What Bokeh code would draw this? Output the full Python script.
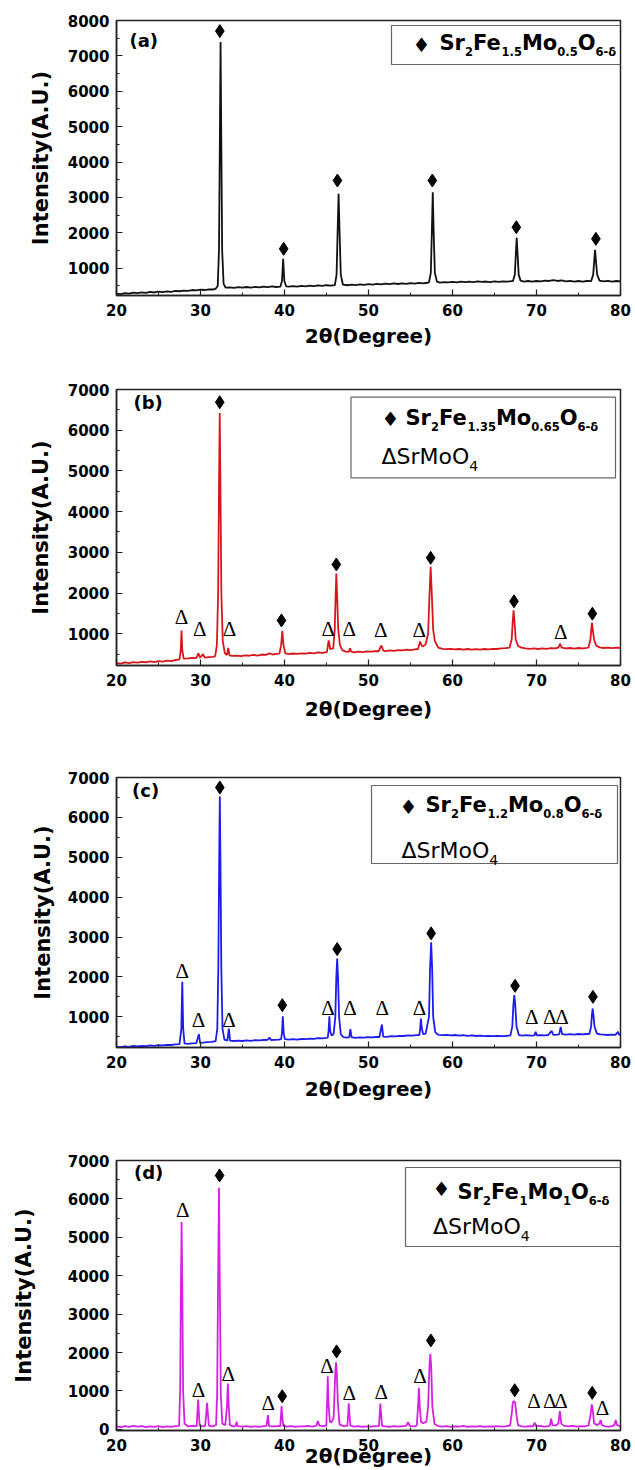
from bokeh.plotting import figure
from bokeh.layouts import column
from bokeh.models import Label, BoxAnnotation, SingleIntervalTicker
from bokeh.core.properties import value
from bokeh.embed import file_html
from bokeh.resources import INLINE

# ---------------- data ----------------
two_theta_a = [20.0, 20.5, 21.0, 21.5, 22.0, 22.5, 23.0, 23.5, 24.0, 24.5, 25.0, 25.5, 26.0, 26.5, 27.0, 27.5, 28.0, 28.5, 29.0, 29.5, 30.0, 30.5, 31.0, 31.5,
               31.8, 32.05, 32.2, 32.3, 32.39, 32.48, 32.58, 32.75, 33.0,
               33.5, 34.0, 34.5, 35.0, 35.5, 36.0, 36.5, 37.0, 37.5, 38.0, 38.5, 39.0, 39.5,
               39.7, 39.84, 39.98, 40.2,
               40.5, 41.0, 41.5, 42.0, 42.5, 43.0, 43.5, 44.0, 44.5, 45.0, 45.5, 46.0,
               46.2, 46.32, 46.44, 46.56, 46.7, 46.95,
               47.5, 48.0, 48.5, 49.0, 49.5, 50.0, 50.5, 51.0, 51.5, 52.0, 52.5, 53.0, 53.5, 54.0, 54.5, 55.0, 55.5, 56.0, 56.5, 57.0, 57.2,
               57.42, 57.54, 57.65, 57.76, 57.9, 58.15,
               58.5, 59.0, 59.5, 60.0, 60.5, 61.0, 61.5, 62.0, 62.5, 63.0, 63.5, 64.0, 64.5, 65.0, 65.5, 66.0, 66.5, 67.0, 67.2,
               67.42, 67.54, 67.64, 67.75, 67.88, 68.1,
               68.5, 69.0, 69.5, 70.0, 70.5, 71.0, 71.5, 72.0, 72.5, 73.0, 73.5, 74.0, 74.5, 75.0, 75.5, 76.0, 76.5,
               76.75, 76.87, 76.97, 77.08, 77.22, 77.5,
               78.0, 78.5, 79.0, 79.5, 80.0]
intensity_a = [285, 270, 300, 285, 310, 295, 320, 305, 330, 315, 340, 325, 345, 335, 360, 350, 370, 360, 385, 375, 395, 385, 405, 400,
               420, 500, 1500, 4500, 7390, 4500, 1500, 560, 450,
               460, 445, 465, 450, 470, 455, 475, 460, 480, 465, 485, 470, 480,
               640, 1266, 640, 490,
               480, 495, 480, 500, 490, 510, 495, 515, 500, 520, 510, 525,
               820, 2000, 3103, 2000, 820, 540,
               520, 535, 525, 545, 530, 550, 540, 560, 545, 565, 550, 570, 555, 575, 560, 580, 565, 585, 575, 590, 600,
               870, 2000, 3148, 2000, 870, 620,
               595, 610, 600, 615, 600, 620, 605, 625, 610, 630, 615, 625, 610, 630, 615, 630, 620, 635, 640,
               820, 1400, 1860, 1400, 820, 650,
               625, 640, 620, 640, 630, 650, 640, 665, 640, 655, 630, 645, 625, 640, 620, 640, 635,
               820, 1200, 1520, 1200, 820, 650,
               630, 645, 625, 640, 630]

two_theta_b = [20.0, 20.5, 21.0, 21.5, 22.0, 22.5, 23.0, 23.5, 24.0, 24.5, 25.0, 25.5, 26.0, 26.5, 27.0, 27.5,
               27.65, 27.74, 27.83, 28.0,
               28.5, 29.0, 29.5, 29.75, 29.95, 30.3, 30.5, 31.0, 31.5, 31.75,
               31.95, 32.1, 32.2, 32.29, 32.38, 32.48, 32.65, 32.9,
               33.15, 33.3, 33.45, 33.8, 34.3, 34.8, 35.3, 35.8, 36.3, 36.8, 37.3, 37.8, 38.2, 38.6, 39.0, 39.4,
               39.6, 39.74, 39.88, 40.1,
               40.5, 41.0, 41.5, 42.0, 42.5, 43.0, 43.5, 44.0, 44.5, 45.05,
               45.26, 45.45, 45.8,
               45.98, 46.08, 46.17, 46.27, 46.4, 46.6, 46.9,
               47.3, 47.65, 47.8, 47.95, 48.3, 48.8, 49.3, 49.8, 50.3, 50.8, 51.2,
               51.54, 51.75, 52.0, 52.5, 53.0, 53.5, 54.0, 54.5, 55.0, 55.5, 55.9,
               56.14, 56.35, 56.5, 56.8,
               57.1, 57.25, 57.4, 57.55, 57.7, 57.9, 58.3,
               58.8, 59.3, 59.8, 60.3, 60.8, 61.3, 61.8, 62.3, 62.8, 63.3, 63.8, 64.3, 64.8, 65.3, 65.8, 66.3, 66.8,
               67.05, 67.17, 67.27, 67.38, 67.52, 67.8, 68.2,
               68.7, 69.2, 69.7, 70.2, 70.7, 71.2, 71.7, 72.2, 72.6, 72.8, 73.0,
               73.5, 74.0, 74.5, 75.0, 75.5, 76.0, 76.2,
               76.42, 76.52, 76.6, 76.7, 76.85, 77.1, 77.5,
               78.0, 78.5, 79.0, 79.5, 80.0]
intensity_b = [280, 265, 295, 280, 305, 290, 310, 300, 320, 305, 325, 315, 340, 330, 355, 370,
               600, 1080, 600, 390,
               395, 405, 400, 520, 410, 500, 415, 425, 430, 450,
               720, 2000, 4500, 6425, 4500, 2000, 820, 520,
               480, 655, 470, 455, 465, 450, 470, 460, 480, 465, 490, 480, 520, 490, 505, 510,
               720, 1064, 720, 520,
               500, 515, 505, 520, 510, 530, 520, 540, 530, 550,
               835, 620, 640,
               1100, 1900, 2479, 1900, 1100, 720, 590,
               560, 555, 645, 560, 545, 560, 550, 565, 560, 575, 570,
               712, 590, 575, 590, 580, 600, 590, 610, 600, 615, 625,
               810, 700, 690, 740,
               1000, 1900, 2643, 1900, 1100, 820, 660,
               630, 620, 630, 615, 625, 610, 625, 610, 620, 610, 625, 615, 630, 625, 640, 645, 660,
               870, 1300, 1575, 1300, 870, 700, 660,
               640, 630, 640, 625, 640, 630, 645, 640, 660, 753, 660,
               640, 650, 635, 650, 640, 655, 665,
               860, 1100, 1271, 1100, 860, 710, 665,
               650, 660, 645, 660, 650]

two_theta_c = [20.0, 20.5, 21.0, 21.5, 22.0, 22.5, 23.0, 23.5, 24.0, 24.5, 25.0, 25.5, 26.0, 26.5, 27.0, 27.5,
               27.72, 27.83, 27.94, 28.1,
               28.5, 29.0, 29.5, 29.81, 29.95, 30.3, 30.8, 31.3, 31.8,
               32.0, 32.12, 32.22, 32.3, 32.38, 32.48, 32.62, 32.85,
               33.2, 33.38, 33.52, 34.0, 34.5, 35.0, 35.5, 36.0, 36.5, 37.0, 37.5, 38.0, 38.21, 38.4, 38.8, 39.3, 39.6,
               39.7, 39.8, 39.9, 40.05,
               40.5, 41.0, 41.5, 42.0, 42.5, 43.0, 43.5, 44.0, 44.5, 45.0, 45.15,
               45.25, 45.34, 45.43, 45.6, 45.85,
               46.05, 46.17, 46.27, 46.37, 46.5, 46.7, 47.0,
               47.4, 47.7, 47.84, 47.98, 48.4, 48.9, 49.4, 49.9, 50.4, 50.9, 51.3,
               51.6, 51.75, 52.2, 52.7, 53.2, 53.7, 54.2, 54.7, 55.2, 55.7, 56.05,
               56.15, 56.24, 56.35, 56.5, 56.8,
               57.2, 57.33, 57.46, 57.58, 57.7, 57.95, 58.3,
               58.8, 59.3, 59.8, 60.3, 60.8, 61.3, 61.8, 62.3, 62.8, 63.3, 63.8, 64.3, 64.8, 65.3, 65.8, 66.3, 66.9,
               67.12, 67.25, 67.36, 67.47, 67.62, 67.9,
               68.3, 68.8, 69.3, 69.75, 69.9, 70.05, 70.5, 71.0, 71.4, 71.8, 72.0, 72.4, 72.7, 72.88, 73.05,
               73.5, 74.0, 74.5, 75.0, 75.5, 76.0, 76.3,
               76.5, 76.6, 76.68, 76.78, 76.9, 77.2,
               77.6, 78.0, 78.5, 79.0, 79.4, 79.7, 79.85, 80.0]
intensity_c = [250, 240, 260, 250, 270, 258, 275, 265, 285, 275, 290, 285, 300, 295, 310, 318,
               700, 1878, 700, 335,
               325, 335, 340, 565, 350, 355, 365, 375, 390,
               700, 2200, 4800, 6523, 4800, 2200, 700, 430,
               405, 708, 405, 395, 405, 395, 410, 400, 415, 410, 420, 425, 482, 420, 425, 430, 440,
               600, 1017, 600, 440,
               430, 440, 430, 445, 440, 455, 450, 465, 460, 475, 480,
               650, 1017, 650, 530, 570,
               1000, 2000, 2465, 2000, 1000, 570, 490,
               480, 485, 691, 490, 475, 485, 478, 490, 485, 495, 495,
               808, 505, 500, 515, 510, 525, 520, 535, 530, 540, 545,
               700, 959, 700, 570, 580,
               1000, 2200, 2867, 2200, 1000, 610, 550,
               540, 550, 535, 545, 530, 540, 525, 535, 520, 530, 515, 525, 515, 520, 515, 520, 535,
               760, 1300, 1545, 1300, 760, 545,
               530, 540, 530, 535, 623, 535, 540, 535, 545, 650, 550, 555, 560, 749, 565,
               555, 565, 555, 570, 560, 570, 575,
               760, 1050, 1210, 1050, 760, 580,
               560, 555, 545, 555, 550, 625, 550, 545]

two_theta_d = [20.0, 20.5, 21.0, 21.5, 22.0, 22.5, 23.0, 23.5, 24.0, 24.5, 25.0, 25.5, 26.0, 26.5, 27.0, 27.45,
               27.58, 27.66, 27.75, 27.84, 27.93, 28.1,
               28.5, 29.0, 29.55, 29.64, 29.72, 29.8, 29.9,
               30.2, 30.55, 30.68, 30.78, 30.88, 31.0,
               31.4, 31.85, 31.98, 32.08, 32.2, 32.31, 32.42, 32.6,
               32.95, 33.15, 33.26, 33.36, 33.5,
               33.9, 34.2, 34.3, 34.4, 35.0, 35.5, 36.0, 36.5, 37.0, 37.5, 37.85, 38.03, 38.15,
               38.6, 39.1, 39.5, 39.58, 39.65, 39.73, 39.85,
               40.3, 40.8, 41.3, 41.8, 42.3, 42.8, 43.3, 43.8, 43.98, 44.15, 44.6, 44.98,
               45.07, 45.15, 45.23, 45.4, 45.6, 45.85,
               45.95, 46.05, 46.13, 46.22, 46.35, 46.55,
               47.0, 47.48, 47.58, 47.65, 47.73, 47.85,
               48.3, 48.8, 49.3, 49.8, 50.3, 50.8, 51.25, 51.33, 51.41, 51.5, 51.62,
               52.0, 52.5, 53.0, 53.5, 54.0, 54.5, 54.7, 54.9, 55.3, 55.75,
               55.9, 56.0, 56.1, 56.25, 56.5, 56.9,
               57.1, 57.25, 57.36, 57.47, 57.6, 57.85,
               58.3, 58.8, 59.3, 59.8, 60.3, 60.8, 61.3, 61.8, 62.3, 62.8, 63.3, 63.8, 64.3, 64.8, 65.3, 65.8, 66.3, 66.85,
               67.05, 67.18, 67.3, 67.45, 67.6, 67.8,
               68.2, 68.7, 69.2, 69.6, 69.79, 69.95, 70.4, 70.9, 71.4, 71.6, 71.74, 71.9, 72.3, 72.6, 72.78, 72.95, 73.3,
               73.8, 74.3, 74.8, 75.3, 75.8, 76.2, 76.45, 76.58, 76.7, 76.85, 77.2, 77.5, 77.63, 77.78,
               78.2, 78.7, 79.1, 79.3, 79.44, 79.58, 80.0]
intensity_d = [80, 60, 85, 65, 90, 70, 85, 60, 80, 65, 85, 60, 80, 65, 85, 90,
               1000, 3500, 5400, 3500, 1000, 150,
               80, 90, 85, 450, 778, 450, 100,
               80, 90, 400, 692, 400, 100,
               80, 110, 900, 3500, 6292, 3500, 900, 150,
               110, 600, 1193, 600, 110,
               80, 90, 199, 85, 70, 85, 65, 80, 65, 85, 90, 371, 85,
               75, 85, 85, 350, 605, 350, 90,
               70, 85, 65, 80, 75, 90, 70, 100, 215, 95, 85, 100,
               700, 1382, 700, 200, 180, 300,
               900, 1500, 1745, 1500, 700, 130,
               85, 90, 380, 680, 380, 95,
               70, 85, 65, 80, 70, 85, 90, 380, 674, 380, 90,
               80, 65, 85, 70, 85, 90, 189, 90, 80, 100,
               600, 1081, 600, 200, 160, 200,
               600, 1600, 1970, 1600, 600, 140,
               85, 70, 85, 65, 80, 70, 90, 65, 80, 70, 85, 65, 80, 70, 85, 70, 80, 100,
               400, 700, 734, 700, 400, 110,
               80, 70, 85, 75, 173, 80, 90, 70, 85, 100, 277, 110, 100, 150, 474, 150, 90,
               75, 90, 70, 85, 75, 100, 400, 648, 500, 160, 110, 150, 241, 110,
               80, 70, 90, 120, 241, 110, 80]

# peak markers: diamonds = double perovskite, deltas = SrMoO4
diamond_x_a = [32.3, 39.9, 46.3, 57.6, 67.6, 77.07]
diamond_y_a = [7700, 1549, 3479, 3479, 2159, 1831]
diamond_x_b = [32.29, 39.64, 46.17, 57.4, 67.32, 76.65]
diamond_y_b = [6687, 1328, 2702, 2865, 1797, 1493]
delta_x_b = [27.74, 29.92, 33.45, 45.2, 47.72, 51.45, 56.04, 72.88]
delta_y_b = [1410, 1123, 1123, 1123, 1123, 1098, 1098, 1040]
diamond_x_c = [32.3, 39.74, 46.27, 57.46, 67.45, 76.72]
diamond_y_c = [6749, 1293, 2699, 3093, 1778, 1502]
delta_x_c = [27.83, 29.75, 33.4, 45.17, 47.81, 51.65, 56.07, 69.42, 71.58, 73.03]
delta_y_c = [2154, 917, 917, 1210, 1210, 1210, 1210, 1000, 1000, 1000]
diamond_x_d = [32.27, 39.73, 46.2, 57.42, 67.41, 76.63]
diamond_y_d = [6611, 863, 2030, 2315, 1019, 951]
delta_x_d = [27.9, 29.75, 33.31, 38.07, 45.06, 47.72, 51.53, 56.14, 69.69, 71.59, 72.92, 77.87]
delta_y_d = [5722, 1037, 1452, 674, 1642, 951, 968, 1400, 734, 734, 734, 562]

panel_tags = ["(a)", "(b)", "(c)", "(d)"]
formula_parts = [
    [("Sr", 0), ("2", 1), ("Fe", 0), ("1.5", 1), ("Mo", 0), ("0.5", 1), ("O", 0), ("6-\u03b4", 1)],
    [("Sr", 0), ("2", 1), ("Fe", 0), ("1.35", 1), ("Mo", 0), ("0.65", 1), ("O", 0), ("6-\u03b4", 1)],
    [("Sr", 0), ("2", 1), ("Fe", 0), ("1.2", 1), ("Mo", 0), ("0.8", 1), ("O", 0), ("6-\u03b4", 1)],
    [("Sr", 0), ("2", 1), ("Fe", 0), ("1", 1), ("Mo", 0), ("1", 1), ("O", 0), ("6-\u03b4", 1)],
]
impurity_parts = [("\u0394SrMoO", 0), ("4", 1)]
line_colors = ["#111111", "#d8161c", "#1c1cf0", "#d620e6"]

FONT = "DejaVu Sans"
BOLD_W = {'S': .720, 'r': .493, 'F': .683, 'e': .678, 'M': .995, 'o': .687, 'O': .850,
          '.': .380, '-': .415, '\u03b4': .687}
REG_W = {'\u0394': .684, 'S': .635, 'r': .411, 'M': .863, 'o': .612, 'O': .787, '.': .318}


def text_width(s, size, bold):
    tab = BOLD_W if bold else REG_W
    dig = .696 if bold else .636
    return sum((dig if ch.isdigit() else tab.get(ch, .6)) for ch in s) * size


def make_panel(idx, x, y, color, yr, height, borders, geo, dx=None, dy=None, tx=None, ty=None,
               title_standoff=5, ytitle_standoff=12):
    top, bottom, left, right = borders
    p = figure(width=635, height=height, x_range=(20, 80), y_range=yr,
               output_backend="svg", toolbar_location=None,
               min_border_top=top, min_border_bottom=bottom,
               min_border_left=left, min_border_right=right)
    p.xgrid.visible = False
    p.ygrid.visible = False
    p.outline_line_color = "#222222"
    p.outline_line_width = 1.5
    p.background_fill_color = "white"
    p.border_fill_color = "white"
    p.xaxis.ticker = SingleIntervalTicker(interval=10, num_minor_ticks=2)
    p.yaxis.ticker = SingleIntervalTicker(interval=1000, num_minor_ticks=2)
    for ax in (p.xaxis[0], p.yaxis[0]):
        ax.axis_line_width = 1.5
        ax.axis_line_color = "#222222"
        ax.major_tick_in = 6
        ax.major_tick_out = 0
        ax.minor_tick_in = 3
        ax.minor_tick_out = 0
        ax.major_tick_line_color = "#222222"
        ax.minor_tick_line_color = "#222222"
        ax.major_tick_line_width = 1.2
        ax.major_label_text_font = FONT
        ax.major_label_text_font_style = "bold"
        ax.major_label_text_font_size = "15px"
        ax.major_label_text_color = "black"
        ax.axis_label_text_font = FONT
        ax.axis_label_text_font_style = "bold"
        ax.axis_label_text_color = "black"
    p.xaxis.major_label_standoff = 8
    p.yaxis.major_label_standoff = 7
    p.xaxis.axis_label = "2\u03b8(Degree)"
    p.xaxis.axis_label_text_font_size = "20px"
    p.xaxis.axis_label_standoff = title_standoff
    p.yaxis.axis_label = "Intensity(A.U.)"
    p.yaxis.axis_label_text_font_size = "21px"
    p.yaxis.axis_label_standoff = ytitle_standoff

    p.line(x, y, color=color, line_width=1.8)
    if dx is not None:
        p.scatter(dx, dy, marker="diamond", size=13, color="black")
    if tx is not None:
        p.text(tx, ty, text=["\u0394"] * len(tx), text_font=value("Liberation Serif"),
               text_font_size="21px", text_align="center", text_baseline="middle",
               text_color="black")

    # ---- annotations, page coordinates converted to frame-relative screen units
    L, B = geo["L"], geo["B"]

    def sx(X):
        return X - L

    def sy(Y):
        return B - Y

    p.add_layout(Label(x=sx(geo["tag"][0]), y=sy(geo["tag"][1]), x_units="screen", y_units="screen",
                       text=panel_tags[idx], text_font=FONT, text_font_style="bold",
                       text_font_size="18px", text_baseline="middle", text_align="left",
                       text_color="black"))
    bl, bt, br, bb = geo["box"]
    p.add_layout(BoxAnnotation(left=sx(bl), right=sx(br), top=sy(bt), bottom=sy(bb),
                               left_units="screen", right_units="screen",
                               top_units="screen", bottom_units="screen",
                               fill_alpha=0, line_color="#666666", line_width=1.2, line_alpha=1))
    p.add_layout(Label(x=sx(geo["dia"][0]), y=sy(geo["dia"][1]), x_units="screen", y_units="screen",
                       text="\u2666", text_font=FONT, text_font_size="20px",
                       text_align="center", text_baseline="middle", text_color="black"))
    MAIN, SUB = 21, 11.5
    SHIFT = 8
    cx, base = geo["f"]
    base -= SHIFT
    for s, is_sub in formula_parts[idx]:
        size = SUB if is_sub else MAIN
        yy = base + 9 if is_sub else base
        p.add_layout(Label(x=sx(cx), y=sy(yy), x_units="screen", y_units="screen", text=s,
                           text_font=FONT, text_font_style="bold", text_font_size=f"{size}px",
                           text_align="left", text_baseline="alphabetic", text_color="black"))
        cx += text_width(s, size, True)
    if "imp" in geo:
        cx, base = geo["imp"]
        base -= SHIFT
        for s, is_sub in impurity_parts:
            size = 14 if is_sub else 22
            yy = base + 9 if is_sub else base
            p.add_layout(Label(x=sx(cx), y=sy(yy), x_units="screen", y_units="screen", text=s,
                               text_font=FONT, text_font_style="normal", text_font_size=f"{size}px",
                               text_align="left", text_baseline="alphabetic", text_color="black"))
            cx += text_width(s, size, False)
    return p


# page-coordinate geometry of each panel (start offset included)
pa = make_panel(0, two_theta_a, intensity_a, line_colors[0], (230, 8000), 355, (20, 60, 108, 11),
                dict(L=108, B=295, tag=(121, 40), box=(383, 25, 623, 64), dia=(413, 44), f=(431, 50)),
                diamond_x_a, diamond_y_a, title_standoff=5, ytitle_standoff=12)
off = 355
pb = make_panel(1, two_theta_b, intensity_b, line_colors[1], (220, 7000), 380, (34, 70, 116, 15),
                dict(L=116, B=665 - off, tag=(133, 401.7 - off), box=(350.5, 396.7 - off, 615, 477.3 - off),
                     dia=(390, 418 - off), f=(405, 425 - off), imp=(381, 464 - off)),
                diamond_x_b, diamond_y_b, delta_x_b, delta_y_b, title_standoff=8, ytitle_standoff=12)
off = 735
pc = make_panel(2, two_theta_c, intensity_c, line_colors[2], (232, 7000), 370, (42, 58, 114, 15),
                dict(L=114, B=1047 - off, tag=(129.5, 790 - off), box=(369, 785 - off, 615, 863 - off),
                     dia=(406, 806 - off), f=(423, 812 - off), imp=(399, 858 - off)),
                diamond_x_c, diamond_y_c, delta_x_c, delta_y_c, title_standoff=6, ytitle_standoff=10)
off = 1105
pd = make_panel(3, two_theta_d, intensity_d, line_colors[3], (-30, 7000), 365, (55, 39, 111, 12),
                dict(L=111, B=1431 - off, tag=(128.5, 1173 - off), box=(400, 1168 - off, 619, 1247 - off),
                     dia=(436, 1189 - off), f=(452, 1200 - off), imp=(427.5, 1235 - off)),
                diamond_x_d, diamond_y_d, delta_x_d, delta_y_d, title_standoff=-10, ytitle_standoff=29)

layout = column(pa, pb, pc, pd, spacing=0)
open("out.html", "w").write(file_html(layout, INLINE))
